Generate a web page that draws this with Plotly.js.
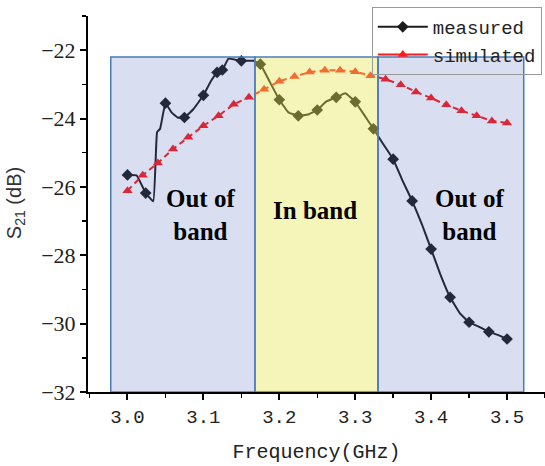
<!DOCTYPE html>
<html><head><meta charset="utf-8">
<script src="https://cdn.plot.ly/plotly-3.0.1.min.js"></script>
<style>html,body{margin:0;padding:0;background:#fff}#chart{width:545px;height:466px}</style>
</head><body><div id="chart"></div>
<script>
// measured S21 (dense curve) and which points carry a diamond marker
const measFreq = [3.000,3.012,3.024,3.034,3.039,3.043,3.050,3.058,3.066,3.075,3.087,3.100,3.110,3.118,3.125,3.133,3.142,3.150,3.166,3.175,3.188,3.200,3.212,3.225,3.238,3.250,3.262,3.275,3.287,3.300,3.312,3.324,3.337,3.350,3.362,3.375,3.388,3.400,3.412,3.425,3.438,3.450,3.462,3.476,3.488,3.500];
const measS21  = [-25.65,-25.66,-26.18,-26.42,-24.40,-24.30,-23.55,-23.82,-23.97,-23.97,-23.72,-23.32,-22.90,-22.65,-22.58,-22.25,-22.28,-22.31,-22.31,-22.41,-22.95,-23.45,-23.82,-23.92,-23.88,-23.75,-23.50,-23.38,-23.26,-23.51,-23.90,-24.30,-24.75,-25.19,-25.80,-26.41,-27.10,-27.82,-28.55,-29.23,-29.70,-29.96,-30.08,-30.24,-30.33,-30.45];
const measMarked = [1,0,1,0,0,0,1,0,0,1,0,1,0,1,1,0,0,1,0,1,0,1,0,1,0,1,0,1,0,1,0,1,0,1,0,1,0,1,0,1,0,1,0,1,0,1];

// simulated S21
const simFreq = [3.00,3.02,3.04,3.06,3.08,3.10,3.12,3.14,3.16,3.18,3.20,3.22,3.24,3.26,3.28,3.30,3.32,3.34,3.36,3.38,3.40,3.42,3.44,3.46,3.48,3.50];
const simS21  = [-26.11,-25.66,-25.30,-24.89,-24.55,-24.21,-23.92,-23.58,-23.38,-23.14,-22.91,-22.77,-22.64,-22.59,-22.59,-22.63,-22.75,-22.85,-23.01,-23.22,-23.40,-23.60,-23.77,-23.92,-24.07,-24.13];

// band regions (GHz) and labels
const bandEdges = [2.978, 3.168, 3.330, 3.522];
const bandTop = -22.2;
const bandLabels = ["Out of<br>band", "In band", "Out of<br>band"];

const xTickVals = [3.0, 3.1, 3.2, 3.3, 3.4, 3.5];

const BLACK = '#1c1c1c', RED = '#ff1a1a';
const MONO = 'Liberation Mono, monospace';
const SERIF = 'Liberation Serif, Times New Roman, serif';
const SANS = 'Liberation Sans, Arial, sans-serif';

const mx = measFreq.filter((_, i) => measMarked[i]);
const my = measS21.filter((_, i) => measMarked[i]);

const traces = [
  {x: measFreq, y: measS21, mode: 'lines', line: {color: BLACK, width: 2, shape: 'spline', smoothing: 0.3}, showlegend: false, hoverinfo: 'skip'},
  {x: mx, y: my, mode: 'markers', marker: {symbol: 'diamond', size: 9, color: BLACK}, showlegend: false},
  {x: simFreq, y: simS21, mode: 'lines+markers', line: {color: RED, width: 2, dash: '6px,4px'},
   marker: {symbol: 'triangle-up', size: 9, color: RED}, showlegend: false},
  // legend entries
  {x: [null], y: [null], mode: 'lines+markers', name: 'measured', line: {color: BLACK, width: 2},
   marker: {symbol: 'diamond', size: 9, color: BLACK}},
  {x: [null], y: [null], mode: 'lines+markers', name: 'simulated', line: {color: RED, width: 2},
   marker: {symbol: 'triangle-up', size: 9, color: RED}}
];

const fills = ['rgba(65,95,180,0.2)', 'rgba(230,230,80,0.4)', 'rgba(65,95,180,0.2)'];
const shapes = [];
for (let i = 0; i < 3; i++) {
  shapes.push({type: 'rect', xref: 'x', yref: 'y', x0: bandEdges[i], x1: bandEdges[i+1], y0: -32, y1: bandTop,
    fillcolor: fills[i], line: {color: '#4a7db5', width: 1.5}, layer: 'above'});
}

const labelX = [3.096, 3.247, 3.451];
const labelY = [-26.83, -26.70, -26.83];
const annotations = bandLabels.map((t, i) => ({
  x: labelX[i], y: labelY[i], xref: 'x', yref: 'y', text: '<b>' + t + '</b>', showarrow: false,
  font: {family: SERIF, size: 25, color: '#000'}, align: 'center'
}));
annotations.push({
  xref: 'paper', yref: 'paper', x: -0.16, y: 0.502, xanchor: 'center', yanchor: 'middle', textangle: -90, showarrow: false,
  text: 'S<sub>21</sub> (dB)', font: {family: SANS, size: 20, color: '#333'}
});

const layout = {
  width: 545, height: 466,
  margin: {l: 88, r: 0, t: 16, b: 74},
  paper_bgcolor: '#fff', plot_bgcolor: '#fff',
  showlegend: true,
  legend: {x: 0.621, y: 1.024, xanchor: 'left', yanchor: 'top', bgcolor: 'rgba(255,255,255,0)',
    bordercolor: '#999', borderwidth: 1, font: {family: MONO, size: 19, color: '#222'},
    itemwidth: 50, tracegroupgap: 0},
  xaxis: {range: [2.948, 3.55], showgrid: false, zeroline: false, showline: true, linecolor: '#000', linewidth: 2,
    ticks: 'outside', ticklen: 6, tickwidth: 2, tickcolor: '#000',
    tickvals: xTickVals, tickformat: '.1f',
    minor: {dtick: 0.05, tick0: 3.0, ticks: 'outside', ticklen: 4, tickwidth: 1.5, tickcolor: '#000', showgrid: false},
    tickfont: {family: MONO, size: 19, color: '#222'},
    title: {text: 'Frequency(GHz)', font: {family: MONO, size: 20, color: '#222'}, standoff: 16}},
  yaxis: {range: [-32, -21], showgrid: false, zeroline: false, showline: true, linecolor: '#000', linewidth: 2,
    ticks: 'outside', ticklen: 6, tickwidth: 2, tickcolor: '#000', tick0: -32, dtick: 2,
    minor: {dtick: 1, tick0: -32, ticks: 'outside', ticklen: 4, tickwidth: 1.5, tickcolor: '#000', showgrid: false},
    tickfont: {family: SERIF, size: 22, color: '#222'}},
  shapes: shapes,
  annotations: annotations
};

Plotly.newPlot('chart', traces, layout, {displayModeBar: false, staticPlot: true});
</script></body></html>
